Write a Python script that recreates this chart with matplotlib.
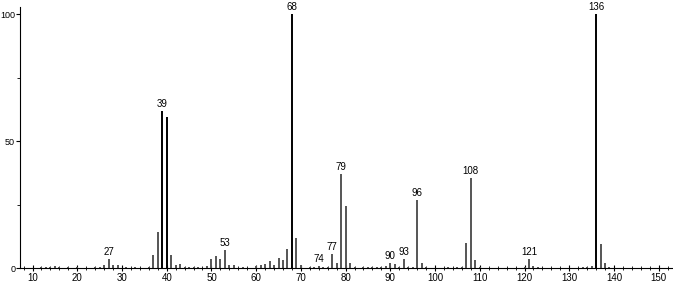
import matplotlib
matplotlib.use("Agg")
import matplotlib.pyplot as plt
from matplotlib.ticker import MultipleLocator

plt.rcParams['font.family'] = ['Liberation Sans', 'DejaVu Sans']

# m/z and relative intensity
mz = [12, 13, 14, 15, 16, 18, 20, 24, 25, 26, 27, 28, 29, 31, 33, 36, 37, 38, 39, 40,
      41, 42, 43, 44, 45, 46, 47, 49, 50, 51, 52, 53, 54, 55, 57, 60, 61, 62, 63, 64,
      65, 66, 67, 68, 69, 70, 72, 73, 74, 75, 76, 77, 78, 79, 80, 81, 82, 84, 85, 86,
      87, 88, 89, 90, 91, 92, 93, 94, 95, 96, 97, 98, 103, 105, 106, 107, 108, 109, 110,
      120, 121, 122, 123, 133, 134, 135, 136, 137, 138, 139]
inten = [0.3, 0.3, 0.5, 0.6, 0.3, 0.3, 0.3, 0.3, 0.5, 1.0, 3.5, 1.2, 1.2, 0.3, 0.3, 0.5, 5.0, 14.0, 61.8, 59.4,
         5.2, 1.0, 1.5, 0.5, 0.5, 0.5, 0.3, 0.8, 3.6, 4.6, 3.4, 7.0, 1.0, 1.0, 0.3, 0.6, 1.0, 1.5, 2.6, 1.0,
         4.0, 3.0, 7.5, 100, 11.8, 1.0, 0.5, 0.5, 0.8, 0.5, 0.5, 5.5, 2.0, 37.0, 24.4, 2.0, 0.5, 0.5, 0.5, 0.5,
         0.5, 0.5, 0.6, 2.0, 1.5, 0.5, 3.5, 0.5, 0.5, 26.8, 2.0, 0.5, 0.3, 0.3, 0.5, 9.8, 35.4, 3.0, 0.5,
         0.3, 3.5, 0.6, 0.3, 0.3, 0.5, 0.8, 100, 9.6, 2.0, 0.5]
labelled = [27, 39, 53, 68, 74, 77, 79, 90, 93, 96, 108, 121, 136]
black_peaks = [39, 40, 68, 136]

fig = plt.figure(figsize=(6.73, 2.85), dpi=100)
ax = fig.add_axes([20/673, 17/285, 653/673, 261/285])

for m, i in zip(mz, inten):
    c = 'black' if m in black_peaks else '#555555'
    ax.vlines(m, 0, i, colors=c, linewidth=1.4)

for m in labelled:
    i = inten[mz.index(m)]
    ax.text(m, i + 0.8, str(m), ha='center', va='bottom', fontsize=7)

ax.set_xlim(7.2, 153.2)
ax.set_ylim(0, 102.8)
ax.spines['top'].set_visible(False)
ax.spines['right'].set_visible(False)
ax.xaxis.set_major_locator(MultipleLocator(10))
ax.xaxis.set_minor_locator(MultipleLocator(2))
ax.yaxis.set_major_locator(MultipleLocator(50))
ax.yaxis.set_minor_locator(MultipleLocator(25))
ax.tick_params(axis='x', which='major', direction='inout', length=5, labelsize=7, pad=1)
ax.tick_params(axis='x', which='minor', direction='inout', length=3)
ax.tick_params(axis='y', which='major', length=3, labelsize=6.5, pad=0.5)
ax.tick_params(axis='y', which='minor', length=2)

fig.savefig('out.png', dpi=100)
